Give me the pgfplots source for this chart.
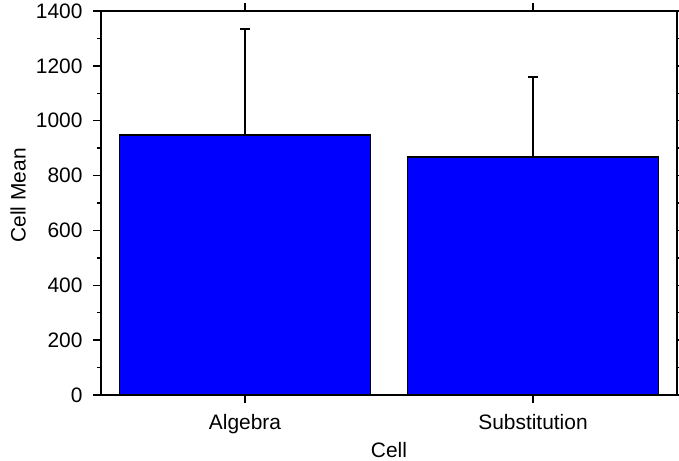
\documentclass[border=0pt]{standalone}
\usepackage{fontspec}
\setmainfont{Liberation Sans}
\usepackage{pgfplots}
\pgfplotsset{compat=1.18}
\usetikzlibrary{calc}

\begin{document}
\begin{tikzpicture}
\begin{axis}[
  width=576bp, height=384bp, scale only axis,
  ybar, bar width=0.872,
  xmin=-0.5, xmax=1.5, ymin=0, ymax=1400,
  xtick={0,1}, xticklabels={Algebra,Substitution},
  ytick={0,200,...,1400}, minor y tick num=1,
  tick align=outside, tick pos=both,
  major tick length=8bp, minor tick length=4bp,
  axis line style={line width=1.4bp},
  every tick/.style={black, line width=1.3bp},
  tick label style={font=\fontsize{21}{25}\selectfont,
    /pgf/number format/assume math mode=true},
  yticklabel style={xshift=-7bp},
  xticklabel style={yshift=-8bp},
  scaled y ticks=false,
  yticklabel style={/pgf/number format/1000 sep={}},
  ylabel={Cell Mean}, xlabel={Cell},
  every axis y label/.style={at={(axis description cs:-0.144,0.52)},
    rotate=90, anchor=center, font=\fontsize{21}{25}\selectfont},
  every axis x label/.style={at={(axis description cs:0.5,-0.143)},
    anchor=center, font=\fontsize{21}{25}\selectfont},
]
\addplot[fill=blue, draw=black, line width=1.2bp,
  error bars/.cd, y dir=plus, y explicit,
  error bar style={line width=1.3bp, black},
  error mark options={rotate=90, mark size=5bp, line width=1.3bp, black}]
  coordinates {(0,948) +- (0,386) (1,868) +- (0,291)};
\end{axis}
\pgfresetboundingbox
\path ($(current axis.south west)+(-101bp,-66bp)$) rectangle ($(current axis.north east)+(2bp,11bp)$);
\end{tikzpicture}
\end{document}
